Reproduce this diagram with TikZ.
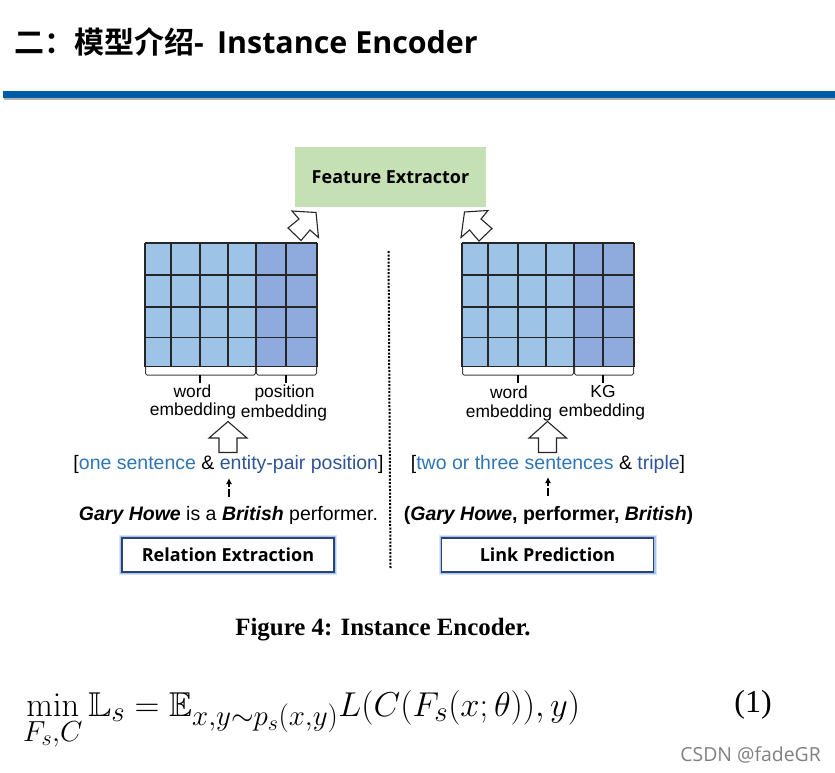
\RequirePackage{fix-cm}
\documentclass[tikz,border=0pt]{standalone}
\usepackage{amssymb}
\usepackage[no-math]{fontspec}
\setmainfont{Liberation Sans}
\newfontfamily\cjkf{Noto Sans CJK SC}[BoldFont={Noto Sans CJK SC Bold}]
\newfontfamily\opf{Open Sans}
\newfontfamily\serf{Liberation Serif}
\DeclareMathSizes{34.5}{34.5}{29}{22}
\usetikzlibrary{arrows.meta}
\definecolor{barblue}{HTML}{005CA6}
\definecolor{cellA}{HTML}{9DC3E6}
\definecolor{cellB}{HTML}{8FAADC}
\definecolor{feat}{HTML}{C5E0B4}
\definecolor{txtA}{HTML}{2E75B6}
\definecolor{txtB}{HTML}{2F5597}
\definecolor{frameblue}{HTML}{2A4478}
\definecolor{glowblue}{HTML}{A9C4EE}
\tikzset{
 lbl/.style={font=\fontsize{17.4}{17.4}\selectfont,inner sep=0pt,anchor=center},
 bigl/.style={font=\fontsize{19.5}{19.5}\selectfont,inner sep=0pt,anchor=center},
 gridline/.style={draw=black!85!white,line width=1.05pt},
 hollow/.style={draw=black!85!white,fill=white,line width=1.1pt,line join=miter},
 brace/.style={draw=black!75!white,line width=1pt,rounded corners=1.5pt},
 task/.style={draw=frameblue,line width=1.9pt,fill=white,minimum width=212pt,minimum height=34pt,inner sep=0pt,
   preaction={draw=glowblue!45!white,line width=6pt},preaction={draw=glowblue,line width=4pt},font=\opf\bfseries\fontsize{18}{18}\selectfont},
 stub/.style={draw=black,line width=1.2pt},
 smallarrow/.style={draw=black,line width=1.3pt,dash pattern=on 8pt off 2pt,-{Latex[length=6pt,width=6pt]}},
}
\begin{document}
\begin{tikzpicture}[x=1pt,y=-1pt]
\useasboundingbox (0,0) rectangle (835,772);
\fill[white] (0,0) rectangle (835,772);
% header
\node[inner sep=0pt,anchor=west] (title) at (14,42) {\fontsize{30}{30}\selectfont\bfseries\cjkf 二：模型介绍\opf -\hspace{5.5pt} \fontsize{30.4}{30.4}\selectfont Instance Encoder};
\fill[black!30!white] (4,98) rectangle (835,100);
\fill[barblue] (3,91) rectangle (835,98);
% feature extractor
\node[fill=feat,minimum width=191pt,minimum height=60pt,inner sep=0pt,font=\opf\bfseries\fontsize{18}{18}\selectfont] (fe) at (390.5,177) {Feature Extractor};
% grids
\foreach \ox/\xs/\sp in {0/{145,171,200,228,256,286,317}/256,317/{145,171,201,229,257,286,317}/257}{
 \begin{scope}[xshift=\ox pt]
 \fill[cellA] (145,243) rectangle (\sp,366.5);
 \fill[cellB] (\sp,243) rectangle (317,366.5);
 \foreach \gx in \xs { \draw[gridline] (\gx,243) -- (\gx,366.5); }
 \foreach \gy in {243,275,307,337.5,366.5} { \draw[gridline] (145,\gy) -- (317,\gy); }
 % braces
 \draw[brace] (145.5,367) -- (145.5,375) -- (\sp-.5,375) -- (\sp-.5,367);
 \draw[brace] (\sp+.5,367) -- (\sp+.5,375) -- (316.5,375) -- (316.5,367);
 \end{scope}
}
\coordinate (bl1) at (200,375); \coordinate (bl2) at (200,383);
\coordinate (bp1) at (286,375); \coordinate (bp2) at (286,383);
\coordinate (br1) at (518,375); \coordinate (br2) at (518,383);
\coordinate (bk1) at (603,375); \coordinate (bk2) at (603,383);
\draw[stub] (bl1) -- (bl2); \draw[stub] (bp1) -- (bp2); \draw[stub] (br1) -- (br2); \draw[stub] (bk1) -- (bk2);
% divider
\coordinate (d1) at (388.5,251); \coordinate (d2) at (390.5,568);
\draw[black,line width=2pt,dash pattern=on 2pt off 1.5pt] (d1) -- (d2);
% hollow diagonal arrows
\draw[hollow] (318.5,237.5) -- (316,212.5) -- (292,211) -- (299,219) -- (288,228) -- (301,240.5) -- (310,230) -- cycle;
\draw[hollow] (461,237.5) -- (464.5,212) -- (488,210.5) -- (481,219) -- (492,228.5) -- (479,241) -- (469.5,230) -- cycle;
% hollow up arrows
\draw[hollow] (228,421.5) -- (247,438) -- (237,438) -- (237,452.5) -- (219,452.5) -- (219,438) -- (209,438) -- cycle;
\draw[hollow] (547.5,421.5) -- (566.5,438) -- (556.5,438) -- (556.5,452.5) -- (538.5,452.5) -- (538.5,438) -- (529,438) -- cycle;
% labels left
\node[lbl] (w1) at (192.5,391) {word};
\node[lbl] (w1b) at (193,411) {embedding};
\node[lbl] (p1) at (284.5,392.5) {position};
\node[lbl] (p1b) at (284,412.5) {embedding};
\node[bigl] (s1) at (228.5,464.5) {[\textcolor{txtA}{one sentence} \& \textcolor{txtB}{entity-pair position}]};
\node[bigl] (g1) at (228.5,515) {\textbf{\textit{Gary Howe}} is a \textbf{\textit{British}} performer.};
% labels right
\node[lbl] (w2) at (509,392) {word};
\node[lbl] (w2b) at (509,412.5) {embedding};
\node[lbl] (k2) at (603,391.5) {KG};
\node[lbl] (k2b) at (602,411.5) {embedding};
\node[bigl] (s2) at (548,464.5) {[\textcolor{txtA}{two or three sentences} \& \textcolor{txtB}{triple}]};
\node[bigl,font=\bfseries\fontsize{19.5}{19.5}\selectfont] (g2) at (548.5,515) {(\textit{Gary Howe}, performer, \textit{British})};
% tasks
\node[task] (re) at (228,555) {Relation Extraction};
\node[task] (lp) at (547.5,555) {Link Prediction};
% small arrows
\coordinate (a1) at (229,497); \coordinate (a1t) at (229,478);
\coordinate (a2) at (548,496); \coordinate (a2t) at (548,477);
\draw[smallarrow] (a1) -- (a1t);
\draw[smallarrow] (a2) -- (a2t);
% caption
\node[inner sep=0pt,font=\serf\bfseries\fontsize{24.9}{24.9}\selectfont] (cap) at (383,629.5) {Figure 4: Instance Encoder.};
% equation
\node[inner sep=0pt,anchor=base west,font=\fontsize{34.5}{34.5}\selectfont] (eq) at (23,716) {$\displaystyle\min_{F_s,C}\mathbb{L}_s=\mathbb{E}_{x,y\sim p_s(x,y)}L(C(F_s(x;\theta)),y)$};
\node[inner sep=0pt,font=\serf\fontsize{32}{32}\selectfont] (num) at (753,705) {(1)};
\node[inner sep=0pt,anchor=east,font=\opf\fontsize{19.4}{19.4}\selectfont,text=black!50!white] (wm) at (821,754.5) {CSDN @fadeGR};
\end{tikzpicture}
\end{document}
